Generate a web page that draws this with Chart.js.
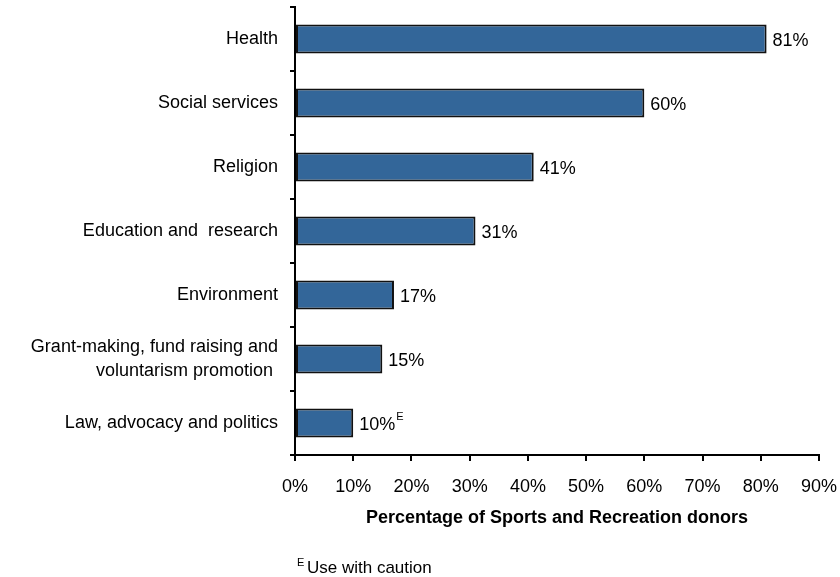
<!DOCTYPE html>
<html>
<head>
<meta charset="utf-8">
<script src="https://cdn.jsdelivr.net/npm/chart.js@4/dist/chart.umd.min.js"></script>
<style>
  html, body { margin: 0; padding: 0; background: #fff; }
  #wrap { width: 840px; height: 577px; }
</style>
</head>
<body>
<div id="wrap"><canvas id="chart"></canvas></div>
<script>
// donor shares by other cause supported (top to bottom)
const categories = [
  "Health",
  "Social services",
  "Religion",
  "Education and  research",
  "Environment",
  ["Grant-making, fund raising and", "voluntarism promotion "],
  "Law, advocacy and politics"
];
const values = [81, 60, 41, 31, 17, 15, 10];
const qualityFlags = ["", "", "", "", "", "", "E"];
const xTicks = [0, 10, 20, 30, 40, 50, 60, 70, 80, 90];

const FONT = "'Liberation Sans', Arial, sans-serif";

// value labels at the end of each bar, with the quality flag as superscript
const barLabels = {
  id: "barLabels",
  afterDatasetsDraw(chart) {
    const ctx = chart.ctx;
    const meta = chart.getDatasetMeta(0);
    ctx.save();
    ctx.fillStyle = "#000";
    ctx.textBaseline = "middle";
    ctx.textAlign = "left";
    meta.data.forEach((bar, i) => {
      const txt = values[i] + "%";
      ctx.font = "18px " + FONT;
      const x = bar.x + 6;
      ctx.fillText(txt, x, bar.y + 2);
      if (qualityFlags[i]) {
        const w = ctx.measureText(txt).width;
        ctx.font = "11px " + FONT;
        ctx.fillText(qualityFlags[i], x + w + 1, bar.y - 6);
      }
    });
    ctx.restore();
  }
};

// footnote under the axis title
const footnote = {
  id: "footnote",
  afterDraw(chart) {
    const ctx = chart.ctx;
    ctx.save();
    ctx.fillStyle = "#000";
    ctx.textAlign = "left";
    ctx.textBaseline = "alphabetic";
    ctx.font = "11px " + FONT;
    ctx.fillText("E", 297, 566);
    ctx.font = "17px " + FONT;
    ctx.fillText("Use with caution", 307, 573);
    ctx.restore();
  }
};

new Chart(document.getElementById("chart"), {
  type: "bar",
  data: {
    labels: categories,
    datasets: [{
      data: values,
      backgroundColor: "#336699",
      borderColor: "#111",
      borderWidth: 2,
      borderSkipped: false,
      barPercentage: 0.45,
      categoryPercentage: 1
    }]
  },
  options: {
    indexAxis: "y",
    responsive: true,
    maintainAspectRatio: false,
    animation: false,
    layout: { padding: { top: 7, right: 21, bottom: 0, left: 0 } },
    plugins: {
      legend: { display: false },
      tooltip: { enabled: false }
    },
    scales: {
      x: {
        min: 0,
        max: 90,
        afterBuildTicks: (scale) => { scale.ticks = xTicks.map(v => ({ value: v })); },
        afterFit: (scale) => {
          scale.height = 122;
          scale.paddingLeft = 0;
          scale.paddingRight = 0;
        },
        border: { color: "#000", width: 2 },
        grid: { drawOnChartArea: false, color: "#000", lineWidth: 2, tickLength: 6 },
        ticks: {
          color: "#000",
          padding: 15,
          font: { family: FONT, size: 18 },
          callback: (v) => v + "%"
        },
        title: {
          display: true,
          text: "Percentage of Sports and Recreation donors",
          color: "#000",
          font: { family: FONT, size: 18, weight: "bold" },
          padding: { top: 0, bottom: 48 }
        }
      },
      y: {
        afterFit: (scale) => {
          scale.width = 295;
          scale.paddingTop = 0;
          scale.paddingBottom = 0;
        },
        border: { color: "#000", width: 2 },
        grid: { drawOnChartArea: false, color: "#000", lineWidth: 2, tickLength: 5, offset: true },
        ticks: {
          color: "#000",
          padding: 12,
          font: { family: FONT, size: 18, lineHeight: 1.33 }
        }
      }
    }
  },
  plugins: [barLabels, footnote]
});
</script>
</body>
</html>
